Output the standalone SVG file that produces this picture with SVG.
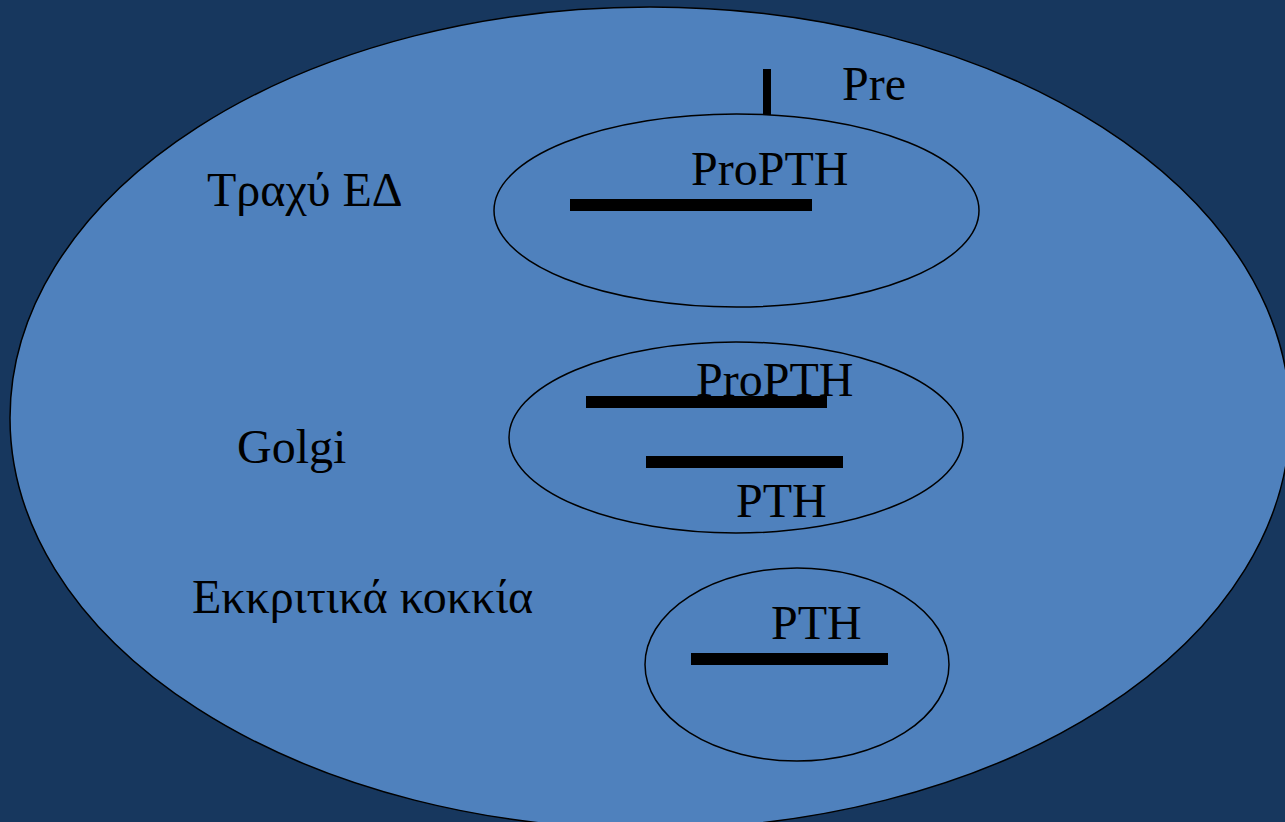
<svg xmlns="http://www.w3.org/2000/svg" width="1285" height="822" viewBox="0 0 1285 822">
<style>
.cell{fill:#4F81BD;stroke:#000;stroke-width:1.5}
.org{fill:none;stroke:#000;stroke-width:1.5}
.bar{stroke:#000;stroke-width:12;fill:none}
.t{font-family:"Liberation Serif","Times New Roman",serif;font-size:48px;fill:#000}
</style>
<rect width="1285" height="822" fill="#17375E"/>
<g id="cell"><ellipse class="cell" cx="650" cy="418" rx="640" ry="411"/></g>
<g id="rough-er">
<ellipse class="org" cx="736.5" cy="210.5" rx="242.5" ry="96.5"/>
<text class="t" x="691" y="185">ProPTH</text>
<text class="t" x="207" y="206">Τραχύ ΕΔ</text>
</g>
<g id="pre">
<text class="t" x="842" y="100">Pre</text>
</g>
<g id="golgi">
<ellipse class="org" cx="736" cy="437.5" rx="227" ry="95.5"/>
<text class="t" x="696" y="396">ProPTH</text>
<text class="t" x="736" y="517">PTH</text>
<text class="t" x="237" y="463">Golgi</text>
</g>
<g id="granules">
<ellipse class="org" cx="797" cy="664.5" rx="152" ry="96.5"/>
<text class="t" x="771" y="639">PTH</text>
<text class="t" x="192" y="613">Εκκριτικά κοκκία</text>
</g>
<g id="connectors">
<line x1="767" y1="69" x2="767" y2="115" stroke="#000" stroke-width="8"/>
<line class="bar" x1="570" y1="205" x2="812" y2="205"/>
<line class="bar" x1="586" y1="402" x2="827" y2="402"/>
<line class="bar" x1="646" y1="462" x2="843" y2="462"/>
<line class="bar" x1="691" y1="659" x2="888" y2="659"/>
</g>
</svg>
